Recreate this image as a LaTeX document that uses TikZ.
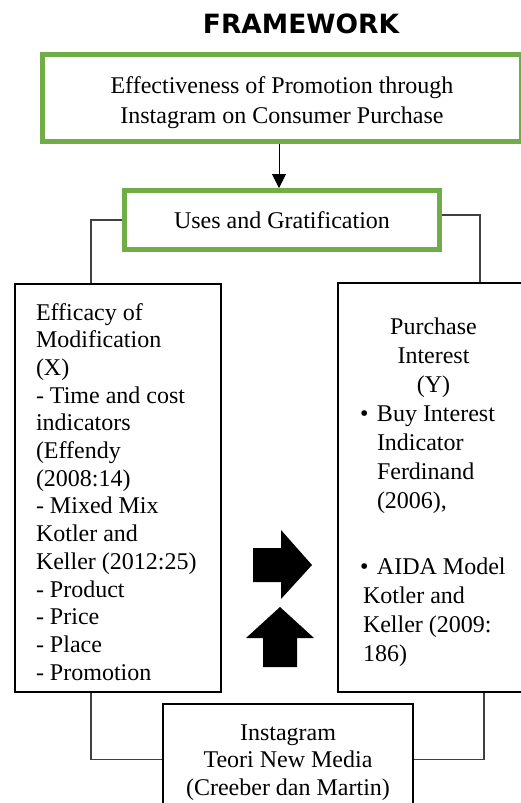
\documentclass[tikz,border=0pt]{standalone}
\usepackage{fontspec}
\setmainfont{Liberation Serif}
\newfontfamily\headfont{DejaVu Sans}
\usetikzlibrary{arrows.meta}
\definecolor{framegreen}{RGB}{112,173,71}
\newcommand{\topstrut}[1]{\rule{0pt}{#1}}

\begin{document}
\begin{tikzpicture}[x=1pt,y=-1pt,
    greenbox/.style={draw=framegreen,line width=5pt,inner sep=0pt,align=center,
      font=\fontsize{24}{30}\selectfont},
    plainbox/.style={draw=black,line width=2pt,inner sep=0pt,
      font=\fontsize{24}{27.7}\selectfont},
    link/.style={draw=black!75,line width=1.2pt},
    blockarrow/.style={fill=black}]
  \useasboundingbox (0,0) rectangle (521,803);
  \node[font=\headfont\bfseries\fontsize{26.5}{30}\selectfont] (title) at (301,24) {FRAMEWORK};
  \node[greenbox,minimum width=479pt,minimum height=87pt] (eff) at (282,98)
    {\topstrut{26.4pt}Effectiveness of Promotion through\\Instagram on Consumer Purchase};
  \node[greenbox,minimum width=315pt,minimum height=59pt] (uses) at (282,220)
    {Uses and Gratification};
  \node[plainbox,minimum width=206pt,minimum height=408pt,text width=164pt,align=flush left]
    (efficacy) at (118,488)
    {\topstrut{24.4pt}Efficacy of\\Modification\\(X)\\- Time and cost\\indicators\\(Effendy\\(2008:14)\\
     - Mixed Mix\\Kotler and\\Keller~(2012:25)\\- Product\\- Price\\- Place\\- Promotion};
  \node[plainbox,minimum width=191pt,minimum height=409pt,text width=147pt,align=flush left,
    font=\fontsize{24}{29}\selectfont] (interest) at (433.5,487.5)
    {{\centering\topstrut{25.4pt}Purchase\\Interest\\(Y)\par}
     \makebox[17pt][l]{\textbullet}Buy~Interest\\
     \hspace*{17pt}Indicator\\
     \hspace*{17pt}Ferdinand\\
     \hspace*{17pt}(2006),\\[37pt]
     \makebox[17pt][l]{\textbullet}AIDA~Model\\
     \hspace*{3pt}Kotler and\\
     \hspace*{3pt}Keller~(2009:\\
     \hspace*{3pt}186)};
  \node[plainbox,minimum width=250pt,minimum height=111pt,align=center,
    font=\fontsize{24}{27.5}\selectfont] (insta) at (288,759.5)
    {\topstrut{22pt}Instagram\\Teori New Media\\(Creeber dan Martin)};

  \draw[-{Triangle[width=14pt,length=14pt]},line width=1pt]
    ([xshift=-3pt]eff.south) -- ([xshift=-3pt]uses.north);
  \begin{scope}[link]
    \draw (uses.west) -| ([xshift=-27pt]efficacy.north);
    \draw ([yshift=5pt]uses.east) -| ([xshift=46.5pt]interest.north);
    \draw ([xshift=-27pt]efficacy.south) |- (insta.west);
    \draw ([xshift=50.5pt]interest.south) |- (insta.east);
  \end{scope}

  \fill[blockarrow] (253,548) -- (281,548) -- (281,530) -- (312,565) -- (281,599)
    -- (281,582) -- (253,582) -- cycle;
  \fill[blockarrow] (263,667) -- (263,638) -- (246,638) -- (280,607) -- (314,638)
    -- (297,638) -- (297,667) -- cycle;
\end{tikzpicture}
\end{document}
